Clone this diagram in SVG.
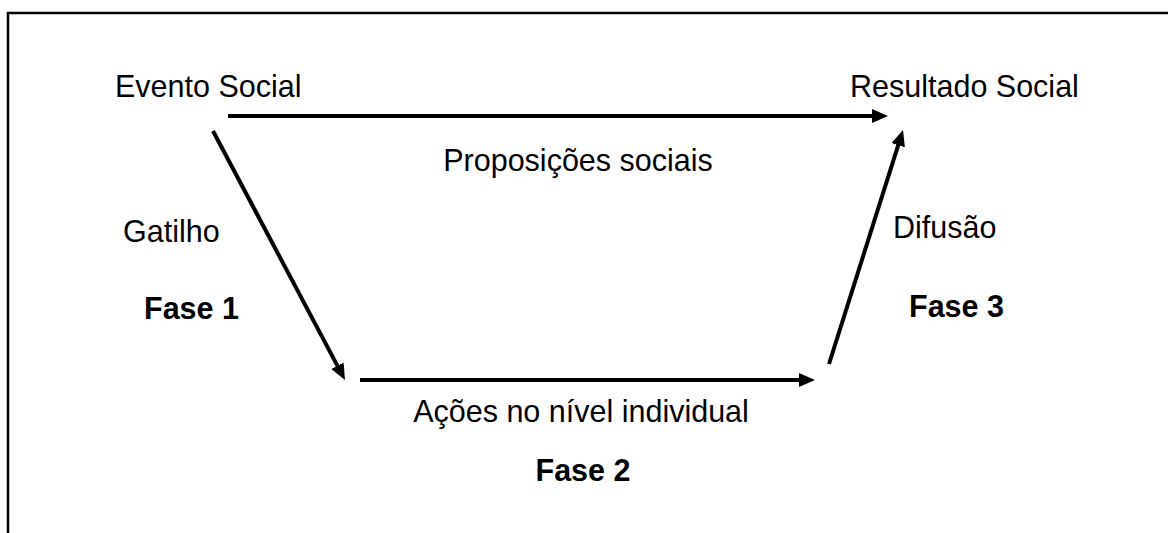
<svg xmlns="http://www.w3.org/2000/svg" width="1168" height="533" viewBox="0 0 1168 533">
<defs>
<style>
.t{font-family:"Liberation Sans",Arial,sans-serif;font-size:30.5px;fill:#000}
.b{font-weight:bold}
.c{stroke:#000;stroke-width:4;fill:none;marker-end:url(#ah)}
</style>
<marker id="ah" markerUnits="userSpaceOnUse" markerWidth="18" markerHeight="16" refX="2" refY="7" orient="auto">
<path d="M0,0 L16,7 L0,14 z" fill="#000"/>
</marker>
</defs>
<rect width="1168" height="533" fill="#fff"/>
<path d="M8,533 V13 H1168" fill="none" stroke="#000" stroke-width="2.5"/>
<g id="connectors">
<line class="c" x1="228" y1="116" x2="874" y2="116"/>
<line class="c" x1="213" y1="131" x2="338.4" y2="367.6"/>
<line class="c" x1="360" y1="380" x2="801" y2="380"/>
<line class="c" x1="829" y1="364" x2="898.8" y2="143.3"/>
</g>
<g id="evento"><text class="t" x="115" y="97">Evento Social</text></g>
<g id="resultado"><text class="t" x="850" y="97">Resultado Social</text></g>
<g id="proposicoes"><text class="t" x="578" y="171" text-anchor="middle">Proposições sociais</text></g>
<g id="gatilho"><text class="t" x="123" y="242">Gatilho</text></g>
<g id="fase1"><text class="t b" x="144" y="319">Fase 1</text></g>
<g id="difusao"><text class="t" x="893" y="238">Difusão</text></g>
<g id="fase3"><text class="t b" x="909" y="317">Fase 3</text></g>
<g id="acoes"><text class="t" x="581" y="422" text-anchor="middle">Ações no nível individual</text></g>
<g id="fase2"><text class="t b" x="583" y="481" text-anchor="middle">Fase 2</text></g>
</svg>
